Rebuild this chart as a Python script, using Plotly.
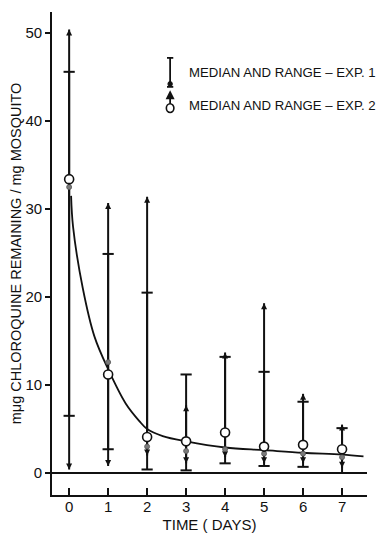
import plotly.graph_objects as go

# ---- data ----
days = [0, 1, 2, 3, 4, 5, 6, 7]

exp1_median = [32.5, 12.6, 3.0, 2.5, 2.7, 2.2, 2.2, 1.8]
exp1_min = [6.5, 2.7, 0.4, 0.3, 1.1, 0.8, 0.7, 0.0]
exp1_max = [45.6, 24.9, 20.5, 11.2, 13.2, 11.5, 8.1, 5.1]

exp2_median = [33.4, 11.2, 4.1, 3.6, 4.6, 3.0, 3.2, 2.7]
exp2_min = [0.4, 0.8, 2.0, 1.1, 1.8, 1.1, 1.1, 0.6]
exp2_max = [50.4, 30.7, 31.4, 7.7, 13.7, 19.3, 9.0, 5.5]

curve_x = [0.05, 0.1, 0.35, 0.65, 1.0, 1.45, 1.8, 2.0, 2.4, 3.0, 4.0, 5.0, 6.0, 7.0, 7.55]
curve_y = [31.5, 28.0, 21.0, 15.5, 11.8, 7.9, 5.9, 5.0, 4.2, 3.6, 2.9, 2.6, 2.3, 2.1, 1.9]

x_ticks = [0, 1, 2, 3, 4, 5, 6, 7]
y_ticks = [0, 10, 20, 30, 40, 50]

FONT = "Liberation Sans"
BLACK = "#111111"

fig = go.Figure()

# vertical range lines (both experiments)
def seg(xs, lo, hi):
    X, Y = [], []
    for x, a, b in zip(xs, lo, hi):
        X += [x, x, None]
        Y += [a, b, None]
    return X, Y

for lo, hi in ((exp2_min, exp2_max), (exp1_min, exp1_max)):
    X, Y = seg(days, lo, hi)
    fig.add_trace(go.Scatter(x=X, y=Y, mode="lines",
                             line=dict(color=BLACK, width=2),
                             hoverinfo="skip", showlegend=False))

# fitted curve
fig.add_trace(go.Scatter(x=curve_x, y=curve_y, mode="lines",
                         line=dict(color=BLACK, width=1.8, shape="spline"),
                         showlegend=False))

# Exp 1 flat caps
fig.add_trace(go.Scatter(x=days + days, y=exp1_min + exp1_max, mode="markers",
                         marker=dict(symbol="line-ew", size=8,
                                     line=dict(color=BLACK, width=2)),
                         showlegend=False))

# Exp 2 arrowheads
fig.add_trace(go.Scatter(x=days, y=exp2_max, mode="markers",
                         marker=dict(symbol="arrow-up", size=6, color=BLACK,
                                     line=dict(width=0)),
                         showlegend=False))
fig.add_trace(go.Scatter(x=days, y=exp2_min, mode="markers",
                         marker=dict(symbol="arrow-down", size=6, color=BLACK,
                                     line=dict(width=0)),
                         showlegend=False))

# Exp 1 medians (grey dots)
fig.add_trace(go.Scatter(x=days, y=exp1_median, mode="markers",
                         marker=dict(symbol="circle", size=5, color="#7a7a7a",
                                     line=dict(color="#555555", width=0.8)),
                         showlegend=False))

# Exp 2 medians (open circles)
fig.add_trace(go.Scatter(x=days, y=exp2_median, mode="markers",
                         marker=dict(symbol="circle", size=9, color="white",
                                     line=dict(color=BLACK, width=1.6)),
                         showlegend=False))

# ---- hand-drawn legend ----
lx = 0.375
shapes = [
    dict(type="line", xref="paper", yref="paper", x0=lx, x1=lx, y0=0.845, y1=0.905,
         line=dict(color=BLACK, width=1.8)),
    dict(type="line", xref="paper", yref="paper", x0=lx - 0.01, x1=lx + 0.01, y0=0.905, y1=0.905,
         line=dict(color=BLACK, width=1.8)),
    dict(type="line", xref="paper", yref="paper", x0=lx - 0.01, x1=lx + 0.01, y0=0.845, y1=0.845,
         line=dict(color=BLACK, width=1.8)),
    dict(type="circle", xref="paper", yref="paper", x0=lx - 0.007, x1=lx + 0.007,
         y0=0.846, y1=0.856, fillcolor=BLACK, line=dict(color=BLACK, width=1)),
    dict(type="line", xref="paper", yref="paper", x0=lx, x1=lx, y0=0.808, y1=0.832,
         line=dict(color=BLACK, width=1.8)),
    dict(type="circle", xref="paper", yref="paper", x0=lx - 0.012, x1=lx + 0.012,
         y0=0.792, y1=0.810, fillcolor="white", line=dict(color=BLACK, width=1.6)),
]

annotations = [
    dict(x=lx, y=0.838, xref="paper", yref="paper", text="", showarrow=True,
         ax=0, ay=8, arrowhead=2, arrowsize=1, arrowwidth=1.8, arrowcolor=BLACK),
    dict(x=0.43, y=0.874, xref="paper", yref="paper", xanchor="left", yanchor="middle",
         text="MEDIAN AND RANGE – EXP. 1", showarrow=False,
         font=dict(family=FONT, size=13.2, color=BLACK)),
    dict(x=0.43, y=0.807, xref="paper", yref="paper", xanchor="left", yanchor="middle",
         text="MEDIAN AND RANGE – EXP. 2", showarrow=False,
         font=dict(family=FONT, size=13.2, color=BLACK)),
]

# the page places the figure 8 px in from the top-left corner (body margin),
# so the figure is sized and padded to land where the reference has it
fig.update_layout(
    width=379, height=530,
    margin=dict(l=44, r=20, t=4, b=43),
    paper_bgcolor="white", plot_bgcolor="white",
    font=dict(family=FONT, color=BLACK),
    shapes=shapes, annotations=annotations,
    showlegend=False,
)

fig.update_xaxes(
    automargin=False,
    range=[-0.44, 7.64], tickvals=x_ticks, ticktext=[str(t) for t in x_ticks],
    ticks="inside", ticklen=7, tickwidth=1.5, tickcolor=BLACK,
    showline=True, linecolor=BLACK, linewidth=1.6, mirror=False,
    showgrid=False, zeroline=False,
    tickfont=dict(family=FONT, size=15, color=BLACK),
    ticklabelstandoff=-3,
    title=dict(text="TIME ( DAYS)", font=dict(family=FONT, size=15, color=BLACK), standoff=6),
)

fig.update_yaxes(
    automargin=False,
    range=[-2.5, 52.4], tickvals=y_ticks,
    ticks="outside", ticklen=5, tickwidth=1.5, tickcolor=BLACK,
    showline=True, linecolor=BLACK, linewidth=1.6,
    showgrid=False, zeroline=True, zerolinecolor=BLACK, zerolinewidth=1.6,
    tickfont=dict(family=FONT, size=15, color=BLACK),
    title=dict(text="mμg CHLOROQUINE REMAINING / mg MOSQUITO",
               font=dict(family=FONT, size=14.5, color=BLACK), standoff=5),
)

fig.write_html("out.html")
